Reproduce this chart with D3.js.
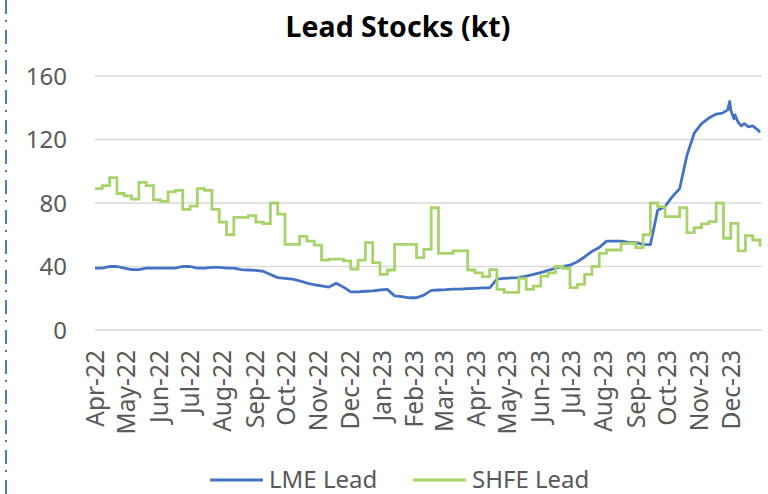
<!DOCTYPE html>
<html>
<head>
<meta charset="utf-8">
<script src="https://cdn.jsdelivr.net/npm/d3@7"></script>
<style>
  body { margin: 0; background: #fff; }
  text { font-family: "Noto Sans", sans-serif; }
</style>
</head>
<body>
<svg width="768" height="494"></svg>
<script>
// data (kt)
var startDate = new Date(2022, 3, 1),
    endDate = new Date(2023, 11, 29);

// SHFE: weekly, starting 1 Apr 2022
var shfeWeekly = [89, 91, 96, 86, 84.5, 82.4, 93, 91, 82, 81, 87, 88, 76, 78, 89, 88,
  76, 68, 60, 71, 71, 72, 68, 67, 80, 73, 54, 54, 59, 56, 53.5, 44, 44.7, 44.7, 43.5,
  38.4, 44, 55, 42.4, 35, 37.8, 54, 54, 54, 45.6, 50.8, 77, 48.3, 48.3, 49.8, 49.8,
  37.8, 36, 33.6, 38, 25.6, 23.7, 23.7, 32.5, 25.6, 27.7, 34, 36, 40, 38.9, 26.7, 28.8,
  35, 40, 48.3, 50.4, 50.4, 54.6, 54.6, 51.9, 60, 80, 77.7, 71.4, 71.4, 77, 61.3, 64.5,
  66.8, 68.3, 80, 57.8, 67.2, 49.8, 59.5, 56.7, 52.5];

// LME: weekly up to mid Nov 2023, then the daily tail
var lmeWeekly = [39, 39, 40, 40, 39, 38, 38, 39, 39, 39, 39, 39, 40, 40, 39, 39, 39.5,
  39.5, 39, 39, 38, 37.8, 37.5, 37, 35, 33, 32.5, 32, 31, 29.5, 28.5, 27.8, 27, 29.5, 27,
  24, 24, 24.4, 24.6, 25.2, 25.6, 21.5, 21, 20.3, 20.3, 22, 25, 25.2, 25.4, 25.8, 25.8,
  26, 26.2, 26.5, 26.5, 32, 32.5, 32.8, 33, 34, 35, 36.2, 37.5, 38.9, 40, 40.8, 43, 46,
  49.5, 52, 56, 56, 56, 55.2, 55, 54, 53.8, 75.5, 77.8, 84, 89, 110, 124, 130, 133.5, 136];
var lmeTailDates = ["2023-11-23", "2023-11-28", "2023-11-30", "2023-12-01", "2023-12-04",
  "2023-12-05", "2023-12-08", "2023-12-11", "2023-12-14", "2023-12-18", "2023-12-22",
  "2023-12-27", "2023-12-29"];
var lmeTailValues = [136.6, 138.7, 144, 138.5, 133, 135.5, 131, 128.6, 130, 128, 128.6, 126, 124.5];

var yTicks = [0, 40, 80, 120, 160];
var seriesNames = ["LME Lead", "SHFE Lead"];
var colors = ["#4472C4", "#A8D36A"];

var parseDate = d3.timeParse("%Y-%m-%d");
var shfe = shfeWeekly.map(function(v, i) { return {date: d3.timeDay.offset(startDate, 7 * i), value: v}; });
var lme = lmeWeekly.map(function(v, i) { return {date: d3.timeDay.offset(startDate, 7 * i), value: v}; })
  .concat(lmeTailDates.map(function(d, i) { return {date: parseDate(d), value: lmeTailValues[i]}; }));

var margin = {top: 76, right: 8, bottom: 164, left: 95},
    width = 768, height = 494;

var svg = d3.select("svg");

var x = d3.scaleTime()
  .domain([startDate, endDate])
  .range([margin.left, 760]);

var y = d3.scaleLinear()
  .domain([0, 160])
  .range([height - margin.bottom, margin.top]);

// dash-dot border on the left
svg.append("line")
  .attr("x1", 6).attr("x2", 6)
  .attr("y1", 0).attr("y2", height)
  .attr("stroke", "#4A7EC4")
  .attr("stroke-width", 2)
  .attr("stroke-dasharray", "14 6 2 8");

// title
svg.append("text")
  .attr("x", 398).attr("y", 37)
  .attr("text-anchor", "middle")
  .style("font-size", "28.5px")
  .style("font-weight", "bold")
  .attr("fill", "#000")
  .text("Lead Stocks (kt)");

// gridlines
svg.append("g")
  .selectAll("line")
  .data(yTicks)
  .enter()
  .append("line")
  .attr("x1", margin.left).attr("x2", 762)
  .attr("y1", function(d) { return y(d); })
  .attr("y2", function(d) { return y(d); })
  .attr("stroke", "#D9D9D9")
  .attr("stroke-width", 1.5);

// y labels
svg.append("g")
  .selectAll("text")
  .data(yTicks)
  .enter()
  .append("text")
  .attr("x", 67)
  .attr("y", function(d) { return y(d); })
  .attr("dy", "0.36em")
  .attr("text-anchor", "end")
  .attr("fill", "#595959")
  .style("font-size", "24px")
  .text(function(d) { return d; });

// x labels, one per month
var months = d3.timeMonth.range(startDate, new Date(2024, 0, 1));
var fmt = d3.timeFormat("%b-%y");
svg.append("g")
  .selectAll("text")
  .data(months)
  .enter()
  .append("text")
  .attr("transform", function(d) { return "translate(" + x(d) + ",350) rotate(-90)"; })
  .attr("dy", "0.36em")
  .attr("text-anchor", "end")
  .attr("fill", "#595959")
  .style("font-size", "24.5px")
  .text(function(d) { return fmt(d); });

// lines
var line = d3.line()
  .x(function(d) { return x(d.date); })
  .y(function(d) { return y(d.value); });

svg.append("path")
  .datum(lme)
  .attr("fill", "none")
  .attr("stroke", colors[0])
  .attr("stroke-width", 2.8)
  .attr("stroke-linejoin", "round")
  .attr("d", line);

svg.append("path")
  .datum(shfe)
  .attr("fill", "none")
  .attr("stroke", colors[1])
  .attr("stroke-width", 2.8)
  .attr("d", line.curve(d3.curveStepAfter));

// legend
var legendX = [210, 413];
var legend = svg.append("g")
  .selectAll("g")
  .data(seriesNames)
  .enter()
  .append("g")
  .attr("transform", function(d, i) { return "translate(" + legendX[i] + ",480)"; });

legend.append("line")
  .attr("x1", 0).attr("x2", 53)
  .attr("stroke", function(d, i) { return colors[i]; })
  .attr("stroke-width", 2.8);

legend.append("text")
  .attr("x", 59)
  .attr("dy", "0.34em")
  .attr("fill", "#595959")
  .style("font-size", "24px")
  .text(function(d) { return d; });
</script>
</body>
</html>
